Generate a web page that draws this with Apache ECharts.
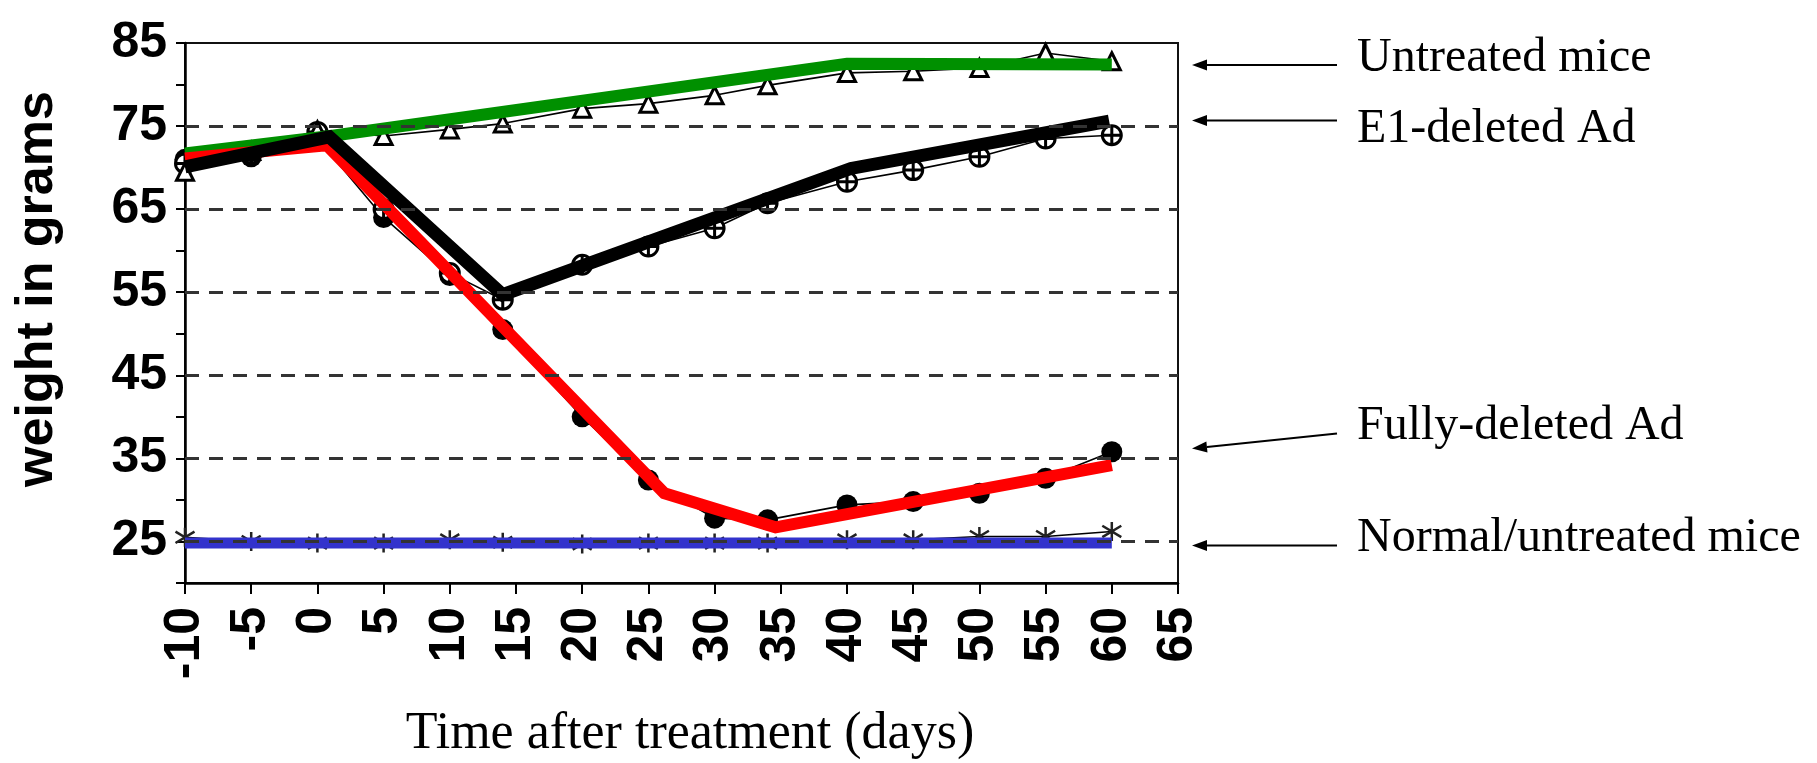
<!DOCTYPE html>
<html>
<head>
<meta charset="utf-8">
<script src="https://cdn.jsdelivr.net/npm/echarts@6/dist/echarts.min.js"></script>
<style>
  html, body { margin: 0; padding: 0; background: #fff; }
  #chart { width: 1817px; height: 763px; }
</style>
</head>
<body>
<div id="chart"></div>
<script>
// ---- data ----
const days = [-10, -5, 0, 5, 10, 14, 20, 25, 30, 34, 40, 45, 50, 55, 60];
const untreatedMice = [69.5, 72.0, 74.5, 73.8, 74.6, 75.3, 77.1, 77.7, 78.7, 79.9, 81.4, 81.6, 82.0, 83.8, 82.8];
const e1DeletedAd   = [70.5, 71.7, 74.3, 65.0, 57.3, 54.1, 58.3, 60.5, 62.7, 65.7, 68.3, 69.7, 71.3, 73.5, 73.9];
const fullyDeletedAd = [71.0, 71.3, 73.5, 64.0, 57.0, 50.5, 40.0, 32.4, 27.8, 27.6, 29.4, 29.8, 30.8, 32.6, 35.8];
const normalMice    = [25.5, 25.0, 24.8, 24.8, 25.2, 24.9, 24.7, 24.8, 24.8, 24.8, 25.2, 25.2, 25.6, 25.6, 26.2];

// bold overlay trend lines (x = day, y = grams)
const greenTrend = [[-10, 71.7], [1, 73.8], [40, 82.5], [60, 82.4]];
const redTrend   = [[-10, 71.1], [0.7, 72.7], [26.2, 30.8], [34.6, 26.7], [60, 34.2]];
const blackTrend = [[-10, 70.1], [0.9, 73.7], [14, 54.7], [40.3, 69.9], [59.8, 75.6]];
const blueTrend  = [[-10, 24.8], [60, 24.8]];

const dashedGridValues = [25, 35, 45, 55, 65, 75];
const xTitle = 'Time after treatment (days)';
const yTitle = 'weight in grams';
const annotationLabels = ['Untreated mice', 'E1-deleted Ad', 'Fully-deleted Ad', 'Normal/untreated mice'];

// ---- layout for annotations ----
const annLayout = [
  { ty: 58, from: [1337, 65],    to: [1192, 65] },
  { ty: 129, from: [1337, 120.5], to: [1192, 120.5] },
  { ty: 426, from: [1337, 433.6], to: [1192, 448.5] },
  { ty: 538, from: [1337, 545.4], to: [1192, 545.4] }
];

const pair = (xs, ys) => xs.map((x, i) => [x, ys[i]]);

const graphics = [];
annotationLabels.forEach((t, i) => {
  const L = annLayout[i];
  graphics.push({
    type: 'text', x: 1357, y: L.ty, z: 10,
    style: { text: t, font: '48px "Liberation Serif"', fill: '#000', align: 'left', verticalAlign: 'middle' }
  });
  const dx = L.to[0] - L.from[0], dy = L.to[1] - L.from[1];
  const len = Math.hypot(dx, dy), ux = dx / len, uy = dy / len;
  const hl = 15, hw = 5.5;
  const bx = L.to[0] - ux * hl, by = L.to[1] - uy * hl;
  graphics.push({
    type: 'line', z: 10,
    shape: { x1: L.from[0], y1: L.from[1], x2: bx, y2: by },
    style: { stroke: '#000', lineWidth: 2 }
  });
  graphics.push({
    type: 'polygon', z: 10,
    shape: { points: [[L.to[0], L.to[1]], [bx - uy * hw, by + ux * hw], [bx + uy * hw, by - ux * hw]] },
    style: { fill: '#000' }
  });
});
graphics.push({
  type: 'text', x: 690, y: 734, z: 10,
  style: { text: xTitle, font: '52px "Liberation Serif"', fill: '#000', align: 'center', verticalAlign: 'middle' }
});
graphics.push({
  type: 'text', x: 38, y: 289, rotation: Math.PI / 2, z: 10,
  style: { text: yTitle, font: 'bold 52px "Liberation Sans"', fill: '#000', align: 'center', verticalAlign: 'middle' }
});

const circlePlus = 'path://M10,0 A10,10 0 1,1 -10,0 A10,10 0 1,1 10,0 Z M-10,0 L10,0 M0,-10 L0,10';
const asterisk = 'path://M0,-10 L0,10 M-9,-6 L9,6 M-9,6 L9,-6';

const thin = { color: '#000', width: 1.6 };
const labelFont = { fontFamily: 'Liberation Sans', fontWeight: 'bold', fontSize: 50, color: '#000' };

const chart = echarts.init(document.getElementById('chart'), null, { renderer: 'canvas' });
chart.setOption({
  animation: false,
  backgroundColor: '#fff',
  grid: { left: 185, right: 639, top: 43, bottom: 180, show: true, borderColor: '#111', borderWidth: 2 },
  xAxis: {
    type: 'value', min: -10, max: 65, interval: 5,
    axisLine: { onZero: false, lineStyle: { color: '#000', width: 2.5 } },
    axisTick: { inside: false, length: 11, lineStyle: { color: '#000', width: 2 } },
    axisLabel: Object.assign({ rotate: 90, margin: 24 }, labelFont),
    splitLine: { show: false }
  },
  yAxis: {
    type: 'value', min: 20, max: 85, interval: 5,
    axisLine: { show: true, onZero: false, lineStyle: { color: '#000', width: 2.5 } },
    axisTick: { show: true, inside: false, length: 9, lineStyle: { color: '#000', width: 2 } },
    axisLabel: Object.assign({
      margin: 18,
      formatter: v => (Math.round(v - 25) % 10 === 0 ? String(v) : '')
    }, labelFont),
    splitLine: { show: false }
  },
  graphic: graphics,
  series: [
    {
      type: 'line', name: 'Normal/untreated mice', data: pair(days, normalMice), z: 2,
      symbol: asterisk, symbolSize: 19,
      itemStyle: { color: 'rgba(0,0,0,0)', borderColor: '#222', borderWidth: 2.5 },
      lineStyle: thin,
      markLine: {
        silent: true, symbol: ['none', 'none'], label: { show: false },
        lineStyle: { type: [14, 10], color: '#333', width: 3 },
        data: dashedGridValues.map(v => ({ yAxis: v }))
      }
    },
    {
      type: 'line', name: 'Fully-deleted Ad', data: pair(days, fullyDeletedAd), z: 2,
      symbol: 'circle', symbolSize: 21,
      itemStyle: { color: '#000' }, lineStyle: thin
    },
    {
      type: 'line', name: 'E1-deleted Ad', data: pair(days, e1DeletedAd), z: 2,
      symbol: circlePlus, symbolSize: 19,
      itemStyle: { color: '#fff', borderColor: '#000', borderWidth: 3 }, lineStyle: thin
    },
    {
      type: 'line', name: 'Untreated mice', data: pair(days, untreatedMice), z: 2,
      symbol: 'triangle', symbolSize: 17,
      itemStyle: { color: '#fff', borderColor: '#000', borderWidth: 3 }, lineStyle: thin
    },
    {
      type: 'line', data: greenTrend, z: 3, showSymbol: false, symbol: 'none',
      lineStyle: { color: '#009000', width: 12, cap: 'butt', join: 'miter' }
    },
    {
      type: 'line', data: redTrend, z: 3, showSymbol: false, symbol: 'none',
      lineStyle: { color: '#ff0000', width: 12, cap: 'butt', join: 'miter' }
    },
    {
      type: 'line', data: blackTrend, z: 3, showSymbol: false, symbol: 'none',
      lineStyle: { color: '#000', width: 13, cap: 'butt', join: 'miter' }
    },
    {
      type: 'line', data: blueTrend, z: 3, showSymbol: false, symbol: 'none',
      lineStyle: { color: '#3333cc', width: 11, cap: 'butt', join: 'miter' }
    }
  ]
});
</script>
</body>
</html>
